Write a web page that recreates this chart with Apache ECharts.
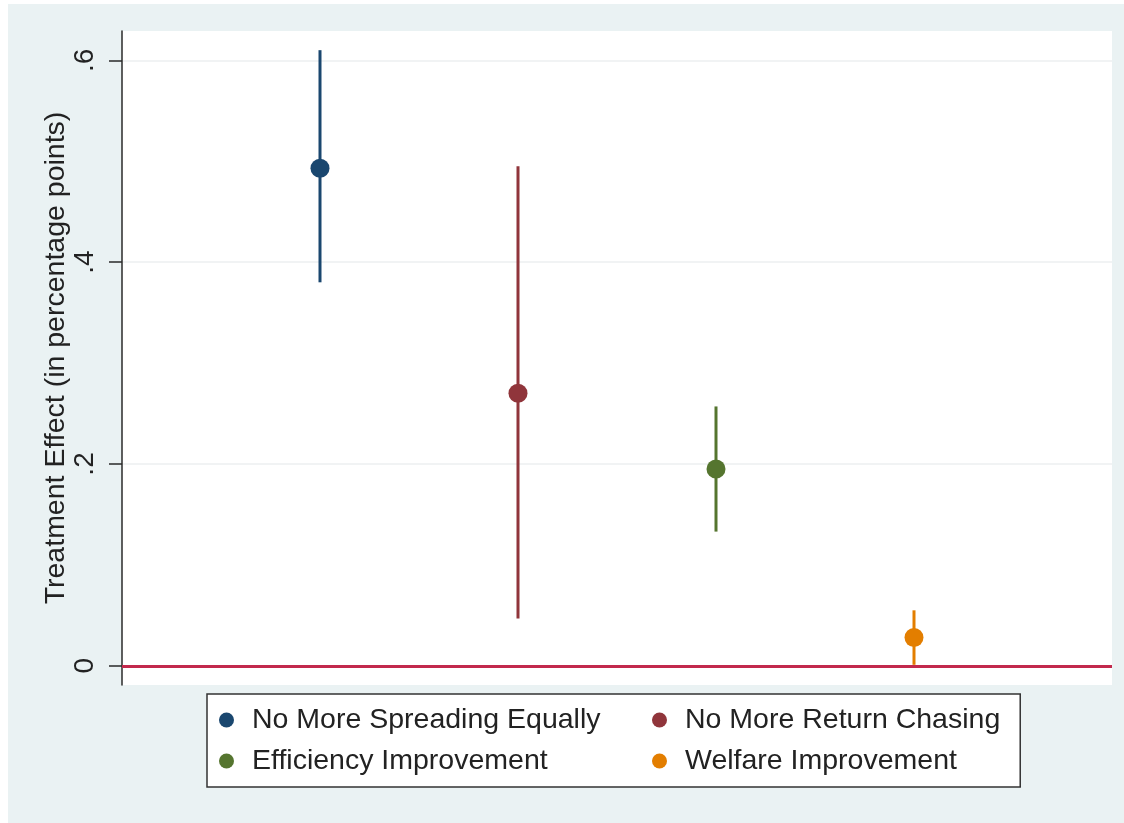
<!DOCTYPE html>
<html>
<head>
<meta charset="utf-8">
<title>Treatment Effects</title>
<script src="https://cdn.jsdelivr.net/npm/echarts@6/dist/echarts.min.js"></script>
<style>
  html, body { margin: 0; padding: 0; background: #ffffff; }
  #chart { position: absolute; left: 8px; top: 4px; width: 1116px; height: 819px; }
</style>
</head>
<body>
<div id="chart"></div>
<script>
// Point estimates with 95% confidence intervals, one group per position
const groups = ['No More Spreading Equally', 'No More Return Chasing', 'Efficiency Improvement', 'Welfare Improvement'];
const positions = [1, 2, 3, 4];
const estimates = [0.493, 0.270, 0.195, 0.028];
const lowerCI = [0.380, 0.047, 0.133, 0.001];
const upperCI = [0.610, 0.495, 0.257, 0.055];

// Y axis ticks and their labels
const yTicks = [0, 0.2, 0.4, 0.6];
const yTickLabels = ['0', '.2', '.4', '.6'];

const colors = ['#1a476f', '#90353b', '#55752f', '#e37e00'];
const fontFamily = '"Liberation Sans", Arial, Helvetica, sans-serif';

const chart = echarts.init(document.getElementById('chart'));

function tickLabel(v) {
  let best = 0;
  yTicks.forEach((t, i) => { if (Math.abs(t - v) < Math.abs(yTicks[best] - v)) best = i; });
  return yTickLabels[best];
}

// Each group is drawn as a vertical CI bar with a dot at the estimate
const groupSeries = groups.map((name, i) => ({
  name: name,
  type: 'custom',
  itemStyle: { color: colors[i] },
  data: [[positions[i], estimates[i], lowerCI[i], upperCI[i]]],
  encode: { x: 0, y: [1, 2, 3] },
  z: 3,
  renderItem: function (params, api) {
    const x = api.value(0);
    const mid = api.coord([x, api.value(1)]);
    const lo = api.coord([x, api.value(2)]);
    const hi = api.coord([x, api.value(3)]);
    return {
      type: 'group',
      children: [
        { type: 'line', shape: { x1: hi[0], y1: hi[1], x2: lo[0], y2: lo[1] },
          style: { stroke: colors[i], lineWidth: 3 } },
        { type: 'circle', shape: { cx: mid[0], cy: mid[1], r: 9.5 },
          style: { fill: colors[i] } }
      ]
    };
  }
}));

// Reference line at zero effect
const zeroLine = {
  name: 'zero',
  type: 'line',
  data: [],
  z: 2,
  markLine: {
    silent: true,
    symbol: 'none',
    label: { show: false },
    lineStyle: { color: '#c2294d', width: 3, type: 'solid' },
    data: [{ yAxis: 0 }]
  }
};

chart.setOption({
  backgroundColor: '#eaf2f3',
  animation: false,
  textStyle: { fontFamily: fontFamily },
  grid: {
    left: 114, right: 12, top: 27, bottom: 138,
    show: true, backgroundColor: '#ffffff', borderWidth: 0
  },
  xAxis: {
    type: 'value', min: 0, max: 5,
    axisLine: { show: false }, axisTick: { show: false },
    axisLabel: { show: false }, splitLine: { show: false }
  },
  yAxis: {
    type: 'value', min: -0.019, max: 0.629,
    name: 'Treatment Effect (in percentage points)',
    nameLocation: 'middle', nameRotate: 90, nameGap: 51,
    nameMoveOverlap: false,
    nameTextStyle: { fontSize: 28.5, color: '#222222', fontFamily: fontFamily },
    axisLine: { show: true, lineStyle: { color: '#2a2a2a', width: 1.5 } },
    axisTick: { show: true, length: 13, customValues: yTicks,
      lineStyle: { color: '#2a2a2a', width: 1.5 } },
    axisLabel: { customValues: yTicks, rotate: 90, margin: 23, fontSize: 28,
      color: '#222222', fontFamily: fontFamily, formatter: tickLabel },
    splitLine: { show: true, lineStyle: { color: '#eceff0', width: 1.5 } }
  },
  legend: {
    data: groups.map((g, i) => ({
      name: g,
      icon: 'circle',
      textStyle: { width: i % 2 === 0 ? 389 : 315 }
    })),
    left: 199, top: 690, width: 820,
    orient: 'horizontal',
    itemWidth: 15, itemHeight: 15, itemGap: 11,
    padding: [11, 20, 11, 12],
    backgroundColor: '#ffffff',
    borderColor: '#333333', borderWidth: 1.5, borderRadius: 0,
    selectedMode: false,
    textStyle: { fontSize: 28.5, lineHeight: 30, color: '#222222',
      fontFamily: fontFamily, padding: [0, 0, 0, 13] }
  },
  series: [zeroLine].concat(groupSeries)
});
</script>
</body>
</html>
